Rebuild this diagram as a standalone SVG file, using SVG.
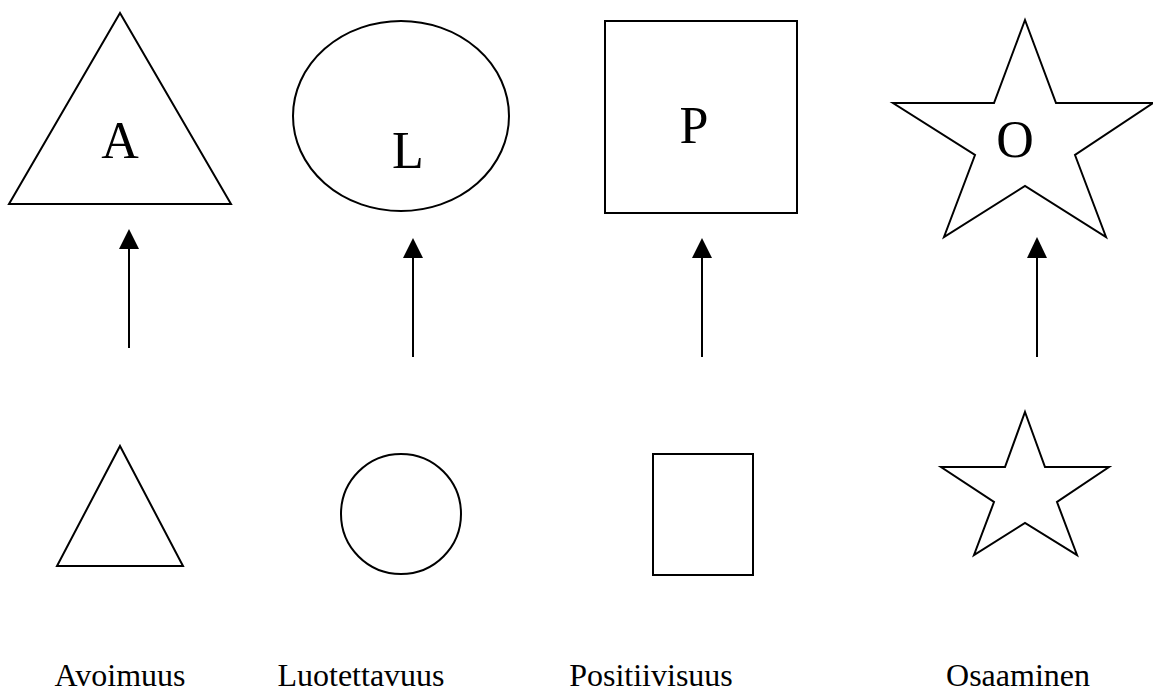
<svg xmlns="http://www.w3.org/2000/svg" width="1153" height="693" viewBox="0 0 1153 693">
<style>
.s{fill:#fff;stroke:#000;stroke-width:2}
.big{font-family:"Liberation Serif","Times New Roman",serif;font-size:52px;fill:#000;text-anchor:middle}
.lbl{font-family:"Liberation Serif","Times New Roman",serif;font-size:32px;fill:#000;text-anchor:middle}
.c{stroke:#000;stroke-width:2;fill:none}
</style>
<defs>
<marker id="ah" viewBox="0 0 10 10" refX="10" refY="5" markerWidth="10" markerHeight="10" markerUnits="userSpaceOnUse" orient="auto">
<path d="M0,0 L10,5 L0,10 Z" fill="#000"/>
</marker>
</defs>
<rect width="1153" height="693" fill="#fff"/>
<g id="node-A-big">
<polygon class="s" points="120,13 231,204 9,204"/>
<text class="big" x="120" y="158">A</text>
</g>
<g id="node-L-big">
<ellipse class="s" cx="401" cy="116" rx="108" ry="95"/>
<text class="big" x="408" y="168">L</text>
</g>
<g id="node-P-big">
<rect class="s" x="605" y="21" width="192" height="192"/>
<text class="big" x="694" y="143">P</text>
</g>
<g id="node-O-big">
<polygon class="s" points="1025,20 1056,103 1153,103 1075,155 1106,237 1025,186 944,237 975,155 893,103 994,103"/>
<text class="big" x="1015" y="157">O</text>
</g>
<g id="connectors">
<line class="c" x1="129" y1="348" x2="129" y2="249"/>
<polygon points="129,229 139,249 119,249" fill="#000"/>
<line class="c" x1="413" y1="357" x2="413" y2="258"/>
<polygon points="413,238 423,258 403,258" fill="#000"/>
<line class="c" x1="702" y1="357" x2="702" y2="258"/>
<polygon points="702,238 712,258 692,258" fill="#000"/>
<line class="c" x1="1037" y1="357" x2="1037" y2="258"/>
<polygon points="1037,237 1047,258 1027,258" fill="#000"/>
</g>
<g id="node-A-small">
<polygon class="s" points="120,446 183,566 57,566"/>
</g>
<g id="node-L-small">
<circle class="s" cx="401" cy="514" r="60"/>
</g>
<g id="node-P-small">
<rect class="s" x="653" y="454" width="100" height="121"/>
</g>
<g id="node-O-small">
<polygon class="s" points="1025,412 1045,467 1109,467 1057,502 1077,555 1025,523 974,555 994,502 941,467 1005,467"/>
</g>
<g id="labels">
<text class="lbl" x="120" y="686">Avoimuus</text>
<text class="lbl" x="361" y="686">Luotettavuus</text>
<text class="lbl" x="651" y="686">Positiivisuus</text>
<text class="lbl" x="1018" y="686">Osaaminen</text>
</g>
</svg>
